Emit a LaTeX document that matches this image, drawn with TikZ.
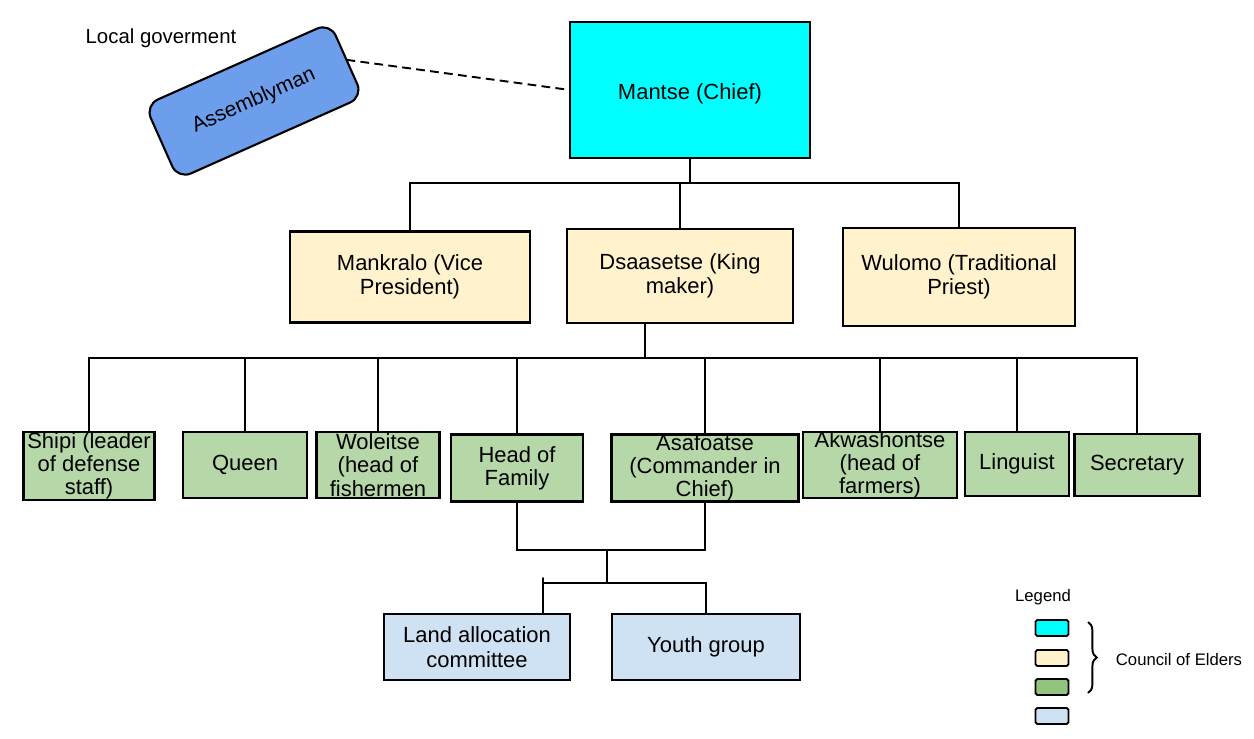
\documentclass[tikz,border=0pt]{standalone}
\usepackage{fontspec}
\setmainfont{Liberation Sans}
\usepackage{tikz}
\usetikzlibrary{
	backgrounds,
	decorations.pathreplacing,
	}
\definecolor{chiefcyan}{HTML}{00FFFF}
\definecolor{elderyellow}{HTML}{FFF2CC}
\definecolor{membergreen}{HTML}{B6D7A8}
\definecolor{legendgreen}{HTML}{93C47D}
\definecolor{groupblue}{HTML}{CFE2F3}
\definecolor{assemblyblue}{HTML}{6D9EEB}

\begin{document}
\begin{tikzpicture}[x=0.02cm,y=-0.02cm,
	box/.style={draw,line width=1.2pt,shape=rectangle,inner sep=0pt,outer sep=0pt,align=center,font=\fontsize{12.5}{14}\selectfont},
	chief/.style={box,fill=chiefcyan},
	elder/.style={box,fill=elderyellow},
	member/.style={box,fill=membergreen,font=\fontsize{12.5}{13.2}\selectfont},
	group/.style={box,fill=groupblue},
	legendbox/.style={draw,line width=1.1pt,rounded corners=1pt,minimum width=0.66cm,minimum height=0.32cm,inner sep=0pt},
	link/.style={line width=1.1pt,line cap=round}]
\useasboundingbox (0,0) rectangle (1254,738);
\node[chief,minimum width=4.8cm,minimum height=2.72cm] (c0) at (690,90) {\raisebox{-5.6pt}[0pt][0pt]{Mantse (Chief)}};
\node[box,fill=assemblyblue,rounded corners=8pt,rotate=24,minimum width=4.05cm,minimum height=1.62cm,font=\fontsize{12}{14}\selectfont] (a1) at (254,101) {Assemblyman};
\node[font=\fontsize{11.6}{14}\selectfont] (lg) at (161,38) {Local goverment};
\node[elder,minimum width=4.8cm,minimum height=1.82cm] (e1) at (410,277) {Mankralo (Vice\\President)};
\node[elder,minimum width=4.52cm,minimum height=1.88cm] (e2) at (680,276) {Dsaasetse (King\\maker)};
\node[elder,minimum width=4.64cm,minimum height=1.96cm] (e3) at (959,277) {Wulomo (Traditional\\Priest)};
\node[member,minimum width=2.62cm,minimum height=1.36cm] (m1) at (89,466) {Shipi (leader\\of defense\\staff)};
\node[member,minimum width=2.48cm,minimum height=1.32cm] (m2) at (245,465) {Queen};
\node[member,minimum width=2.46cm,minimum height=1.32cm] (m3) at (378,465) {Woleitse\\(head of\\fishermen};
\node[member,minimum width=2.64cm,minimum height=1.34cm] (m4) at (517,468) {Head of\\Family};
\node[member,minimum width=3.74cm,minimum height=1.34cm] (m5) at (705,468) {Asafoatse\\(Commander in\\Chief)};
\node[member,minimum width=3.08cm,minimum height=1.32cm] (m6) at (880,465) {Akwashontse\\(head of\\farmers)};
\node[member,minimum width=2.08cm,minimum height=1.28cm] (m7) at (1017,464) {Linguist};
\node[member,minimum width=2.5cm,minimum height=1.24cm] (m8) at (1137,465) {Secretary};
\node[group,minimum width=3.72cm,minimum height=1.32cm] (g1) at (477,647) {Land allocation\\committee};
\node[group,minimum width=3.76cm,minimum height=1.32cm] (g2) at (706,647) {Youth group};
\node[font=\fontsize{9.5}{11}\selectfont] (lt) at (1043,597) {Legend};
\node[legendbox,fill=chiefcyan] (l1) at (1052,628) {};
\node[legendbox,fill=elderyellow] (l2) at (1052,658) {};
\node[legendbox,fill=legendgreen] (l3) at (1052,687) {};
\node[legendbox,fill=groupblue] (l4) at (1052,716) {};
\node[font=\fontsize{9.5}{11}\selectfont] (ce) at (1179,660) {Council of Elders};
\coordinate (b1) at (690,183);
\coordinate (b2) at (645,358);
\coordinate (b3) at (607,550);
\coordinate (b4) at (607,583);
\coordinate (t1) at (543,583);
\coordinate (t0) at (543,578);
\coordinate (r1) at (1088,622);
\coordinate (r2) at (1088,693);
\begin{scope}[on background layer]
\fill[white] (0,0) rectangle (1254,738);
\draw[line width=1.1pt,dash pattern=on 5pt off 3pt] (a1.east) -- (c0.west);
\draw[link] (c0.south) -- (c0.south |- b1);
\draw[link] (e1.north) |- (b1) -| (e3.north);
\draw[link] (e2.north) -- (e2.north |- b1);
\draw[link] (e2.south -| b2) -- (b2);
\draw[link] (m1.north) |- (b2) -| (m8.north);
\foreach \n in {m2,m3,m4,m5,m6,m7}
	\draw[link] (\n.north) -- (\n.north |- b2);
\draw[link] (m4.south) |- (b3) -| (m5.south);
\draw[link] (b3) -- (b4);
\draw[link] (t0 |- g1.north) -- (t0);
\draw[link] (t1) -| (g2.north);
\end{scope}
\draw[line width=1.1pt,decorate,decoration={brace,amplitude=5pt}] (r1) -- (r2);
\end{tikzpicture}
\end{document}
